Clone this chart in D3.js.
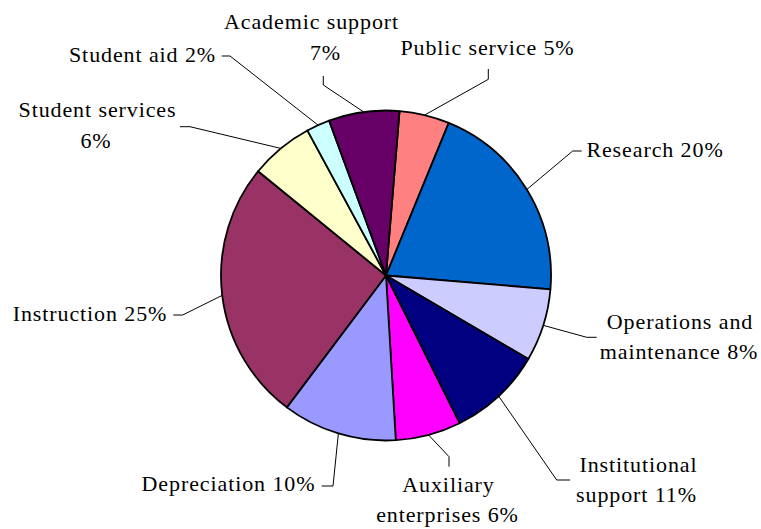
<!DOCTYPE html>
<html>
<head>
<meta charset="utf-8">
<script src="https://cdn.jsdelivr.net/npm/d3@7/dist/d3.min.js"></script>
<style>
  html, body { margin: 0; padding: 0; background: #ffffff; }
  svg { display: block; }
</style>
</head>
<body>
<script>
// ---- data ----
const categories = ["Public service", "Research", "Operations and maintenance", "Institutional support",
  "Auxiliary enterprises", "Depreciation", "Instruction", "Student services", "Student aid", "Academic support"];
// slice shares (angles)
const shares = [4.9, 20.1, 7.1, 9.2, 6.4, 11.2, 25.6, 6.2, 2.3, 6.9];
// percent labels as printed
const percentLabels = ["5%", "20%", "8%", "11%", "6%", "10%", "25%", "6%", "2%", "7%"];
const colors = ["#FF8080", "#0066CC", "#CCCCFF", "#000080", "#FF00FF", "#9999FF", "#993366", "#FFFFCC", "#CCFFFF", "#660066"];

// ---- layout (label placement) ----
const labelBreaks = [0, 0, 2, 1, 1, 0, 0, 2, 0, 2]; // words on first line (0 = single line)
const labelLineCenters = [
  [[487.5, 55]],
  [[655, 157]],
  [[680, 329], [679, 359]],
  [[638.5, 472], [636.5, 502]],
  [[448.5, 492], [447.5, 522]],
  [[228.5, 491]],
  [[90, 321]],
  [[97.5, 117], [96, 148]],
  [[142.5, 62]],
  [[311.5, 29], [325.5, 60]]
];
const leaderStarts = [[488.3, 69], [581.7, 151], [596.7, 337.3], [570, 480], [449, 466.7], [321.7, 486], [173.3, 315], [180, 126.7], [221.7, 56], [323.3, 76]];
const leaderElbows = [[488.3, 79.3], [572.7, 151], [586.7, 337.3], [556.7, 480], [449, 456.7], [333, 486], [182.7, 315], [190, 126.7], [230, 56], [323.3, 85]];

const W = 761, H = 529;
const cx = 386, cy = 275.5, R = 165;
const startDeg = 4.7;
const FONT = "'Liberation Serif', Tinos, 'Times New Roman', Times, serif";

const svg = d3.select("body").append("svg").attr("width", W).attr("height", H);
svg.append("rect").attr("width", W).attr("height", H).attr("fill", "#fff");

const pie = d3.pie().sort(null).value(d => d)
  .startAngle(startDeg * Math.PI / 180)
  .endAngle(startDeg * Math.PI / 180 + 2 * Math.PI);
const arcs = pie(shares);
const arc = d3.arc().innerRadius(0).outerRadius(R);

const g = svg.append("g").attr("transform", `translate(${cx},${cy})`);
g.selectAll("path.slice").data(arcs).enter().append("path")
  .attr("class", "slice")
  .attr("d", arc)
  .attr("fill", (d, i) => colors[i])
  .attr("stroke", "#000")
  .attr("stroke-width", 1.8)
  .attr("stroke-linejoin", "round");

// leader lines
const line = d3.line();
arcs.forEach((d, i) => {
  const mid = (d.startAngle + d.endAngle) / 2;
  const edge = [cx + R * Math.sin(mid), cy - R * Math.cos(mid)];
  svg.append("path")
    .attr("d", line([leaderStarts[i], leaderElbows[i], edge]))
    .attr("fill", "none").attr("stroke", "#000").attr("stroke-width", 1);
});

// labels
categories.forEach((c, i) => {
  const full = (c + " " + percentLabels[i]).split(" ");
  let lines;
  if (labelBreaks[i] > 0) {
    lines = [full.slice(0, labelBreaks[i]).join(" "), full.slice(labelBreaks[i]).join(" ")];
  } else {
    lines = [full.join(" ")];
  }
  lines.forEach((t, j) => {
    const p = labelLineCenters[i][j];
    svg.append("text")
      .attr("x", p[0]).attr("y", p[1])
      .attr("text-anchor", "middle")
      .attr("font-family", FONT)
      .attr("font-size", 22)
      .attr("letter-spacing", 0.9)
      .attr("fill", "#000")
      .text(t);
  });
});
</script>
</body>
</html>
